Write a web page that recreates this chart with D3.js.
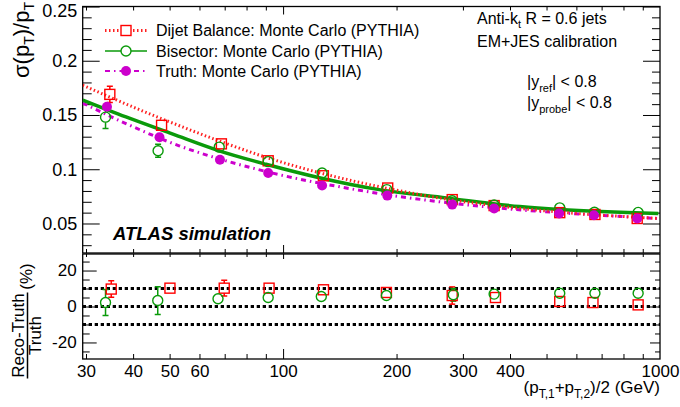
<!DOCTYPE html>
<html><head><meta charset="utf-8">
<script src="https://cdn.jsdelivr.net/npm/d3@7/dist/d3.min.js"></script>
<style>
html,body{margin:0;padding:0;background:#fff;}
svg{display:block;font-family:"Liberation Sans",Arial,Helvetica,sans-serif;}
</style></head>
<body><svg id="c" width="680" height="407"></svg>
<script>
// ---------- data ----------
const dijetX   = [34.7, 47.6, 68.6, 91.3, 127.9, 189.5, 281, 363, 542, 672, 870];
const dijetY   = [0.169, 0.1405, 0.1234, 0.1078, 0.094, 0.0827, 0.072, 0.0665, 0.0600, 0.0583, 0.0546];
const dijetErr = [0.0075, 0.003, 0.003, 0.002, 0.002, 0.0015, 0.0015, 0.001, 0.001, 0.001, 0.001];

const bisX   = [33.8, 46.6, 67.7, 91.3, 126.9, 188.5, 281, 363, 542, 670, 875];
const bisY   = [0.148, 0.117, 0.1204, 0.107, 0.0965, 0.0812, 0.071, 0.067, 0.0644, 0.0604, 0.0602];
const bisErr = [0.0105, 0.006, 0.003, 0.002, 0.002, 0.0015, 0.0015, 0.001, 0.001, 0.001, 0.001];

const truthX = [34.1, 47.0, 68.0, 91.3, 126.9, 189, 281, 363, 540, 668, 870];
const truthY = [0.1576, 0.1295, 0.1087, 0.0965, 0.085, 0.0757, 0.0674, 0.0638, 0.0592, 0.0576, 0.0546];

const dijetFitX = [29.4, 38.3, 50.8, 67.7, 90.1, 124.8, 180, 271, 416, 542, 990];
const dijetFitY = [0.1775, 0.1601, 0.1427, 0.1261, 0.1110, 0.0968, 0.0839, 0.0725, 0.0642, 0.0605, 0.0546];
const bisFitX   = [29.4, 38.3, 50.8, 67.7, 90.1, 124.8, 180, 271, 424, 542, 990];
const bisFitY   = [0.1638, 0.1482, 0.1326, 0.1170, 0.1046, 0.0922, 0.0812, 0.0736, 0.0656, 0.0628, 0.0592];
const truthFitX = [29.4, 38.5, 53.0, 72.0, 101.8, 138.3, 195.5, 271, 416, 612.6, 990];
const truthFitY = [0.1610, 0.1417, 0.1216, 0.1069, 0.0936, 0.0844, 0.0757, 0.0693, 0.0628, 0.0587, 0.0546];

const ratioDijetX   = [35.0, 50.1, 69.8, 91.8, 128, 188, 281, 366, 542, 664, 875];
const ratioDijetY   = [9.7, 10.2, 10.2, 10.2, 9.3, 7.8, 6.1, 5.0, 2.8, 2.2, 0.9];
const ratioDijetErr = [4.6, 1, 4.4, 1, 1.5, 1, 4.8, 1.5, 0.5, 0.5, 0.5];
const ratioBisX   = [33.8, 46.5, 67.2, 91.3, 126.3, 188, 283, 363, 542, 672, 875];
const ratioBisY   = [2.2, 3.3, 4.3, 5.0, 5.6, 6.1, 6.5, 6.9, 7.4, 7.4, 7.4];
const ratioBisErr = [7.2, 7.7, 3, 1, 1, 1, 3.5, 2, 1, 1, 1];
const ratioRefLines = [10, 0, -10];

const yTopMajor = [0.05, 0.1, 0.15, 0.2, 0.25];
const yTopLabels = ["0.05", "0.1", "0.15", "0.2", "0.25"];
const yBotMajor = [-20, 0, 20];
const xMajor = [100, 1000];
const xMinor = [30, 40, 50, 60, 70, 80, 90, 200, 300, 400, 500, 600, 700, 800, 900];
const xLabels = [30, 40, 50, 60, 100, 200, 300, 400, 1000];
const legendLabels = ["Dijet Balance: Monte Carlo (PYTHIA)", "Bisector: Monte Carlo (PYTHIA)", "Truth: Monte Carlo (PYTHIA)"];

(function(){
// ---------- setup ----------
const RED = "#ff0000", GREEN = "#0a9a0a", MAG = "#cc00cc";
const svg = d3.select("#c");
const L = 82.7, R = 660, T1 = 6.5, B1 = 253, T2 = 254, B2 = 359;
const x = d3.scaleLog().domain([29.4, 1000]).range([L, R]);
const yT = d3.scaleLinear().domain([0.0228, 0.25]).range([B1, T1]);
const yB = d3.scaleLinear().domain([-29.2, 29.2]).range([B2, T2]);

svg.append("defs").html(`<clipPath id="cp1"><rect x="${L}" y="${T1}" width="${R-L}" height="${B1-T1}"/></clipPath>
<clipPath id="cp2"><rect x="${L}" y="${T2}" width="${R-L}" height="${B2-T2}"/></clipPath>`);

function styleAxis(g){ g.select(".domain").remove(); g.selectAll("line").attr("stroke","#000").attr("stroke-width",1); g.selectAll("text").attr("fill","#000").style("font-family","'Liberation Sans',Arial,sans-serif"); }

function range(a,b,s){ const r=[]; for(let v=a; v<=b+1e-9; v+=s) r.push(+v.toFixed(4)); return r; }
const yTopMinor = range(0.03, 0.24, 0.01).filter(v => !yTopMajor.some(m=>Math.abs(m-v)<1e-6));
const yBotMinor = range(-25, 25, 5).filter(v => !yBotMajor.includes(v));

// ---------- top panel axes ----------
svg.append("g").attr("transform",`translate(${L},0)`).call(d3.axisLeft(yT).tickValues(yTopMinor).tickSize(-9).tickFormat("")).call(styleAxis);
svg.append("g").attr("transform",`translate(${L},0)`).call(d3.axisLeft(yT).tickValues(yTopMajor).tickSize(-17).tickPadding(5.5).tickFormat((d,i)=>yTopLabels[i]))
  .call(g=>{styleAxis(g); g.selectAll("text").style("font-size","18px"); g.selectAll("text").filter(d=>d===0.25).attr("dy","0.55em");});
svg.append("g").attr("transform",`translate(${R},0)`).call(d3.axisRight(yT).tickValues(yTopMinor).tickSize(-8).tickFormat("")).call(styleAxis);
svg.append("g").attr("transform",`translate(${R},0)`).call(d3.axisRight(yT).tickValues(yTopMajor).tickSize(-17).tickFormat("")).call(styleAxis);
svg.append("g").attr("transform",`translate(0,${T1})`).call(d3.axisTop(x).tickValues(xMinor).tickSize(-4).tickFormat("")).call(styleAxis);
svg.append("g").attr("transform",`translate(0,${T1})`).call(d3.axisTop(x).tickValues(xMajor.filter(v=>v<1000)).tickSize(-8).tickFormat("")).call(styleAxis);
svg.append("g").attr("transform",`translate(0,${B1})`).call(d3.axisBottom(x).tickValues(xMinor).tickSize(-4).tickFormat("")).call(styleAxis);
svg.append("g").attr("transform",`translate(0,${B1})`).call(d3.axisBottom(x).tickValues(xMajor.filter(v=>v<1000)).tickSize(-8).tickFormat("")).call(styleAxis);

// ---------- bottom panel axes ----------
svg.append("g").attr("transform",`translate(${L},0)`).call(d3.axisLeft(yB).tickValues(yBotMinor).tickSize(-7).tickFormat("")).call(styleAxis);
svg.append("g").attr("transform",`translate(${L},0)`).call(d3.axisLeft(yB).tickValues(yBotMajor).tickSize(-14).tickPadding(6).tickFormat(d=>d)).call(g=>{styleAxis(g); g.selectAll("text").style("font-size","17px");});
svg.append("g").attr("transform",`translate(${R},0)`).call(d3.axisRight(yB).tickValues(yBotMinor).tickSize(-5).tickFormat("")).call(styleAxis);
svg.append("g").attr("transform",`translate(${R},0)`).call(d3.axisRight(yB).tickValues(yBotMajor).tickSize(-10).tickFormat("")).call(styleAxis);
svg.append("g").attr("transform",`translate(0,${T2})`).call(d3.axisTop(x).tickValues(xMinor).tickSize(-3).tickFormat("")).call(styleAxis);
svg.append("g").attr("transform",`translate(0,${T2})`).call(d3.axisTop(x).tickValues(xMajor.filter(v=>v<1000)).tickSize(-5).tickFormat("")).call(styleAxis);
svg.append("g").attr("transform",`translate(0,${B2})`).call(d3.axisBottom(x).tickValues(xMinor).tickSize(-5).tickFormat("")).call(styleAxis);
svg.append("g").attr("transform",`translate(0,${B2})`).call(d3.axisBottom(x).tickValues(xMajor.filter(v=>v<1000)).tickSize(-10).tickFormat("")).call(styleAxis);
svg.append("g").attr("transform",`translate(0,${B2})`).call(d3.axisBottom(x).tickValues(xLabels).tickSize(0).tickPadding(5.6).tickFormat(d=>d)).call(g=>{styleAxis(g); g.selectAll("text").style("font-size","17px");});

// frames
svg.append("rect").attr("x",L).attr("y",T1).attr("width",R-L).attr("height",B1-T1).attr("fill","none").attr("stroke","#000").attr("stroke-width",1.3);
svg.append("rect").attr("x",L).attr("y",T2).attr("width",R-L).attr("height",B2-T2).attr("fill","none").attr("stroke","#000").attr("stroke-width",1.3);

// ---------- curves ----------
const topG = svg.append("g").attr("clip-path","url(#cp1)");
function curve(xs, ys, color, w, dash){
  const line = d3.line().x(d=>x(d[0])).y(d=>yT(d[1])).curve(d3.curveMonotoneX);
  topG.append("path").attr("d", line(xs.map((v,i)=>[v, ys[i]]))).attr("fill","none")
    .attr("stroke",color).attr("stroke-width",w).attr("stroke-dasharray",dash||null);
}
curve(truthFitX, truthFitY, MAG, 3, "5,4,1.5,4");
curve(bisFitX, bisFitY, GREEN, 3.5, null);
curve(dijetFitX, dijetFitY, "#ff2020", 3, "1.5,2.5");

// markers helpers
const MR = 5;
function errBars(g, xs, ys, es, ysc, color){
  xs.forEach((xv,i)=>{
    const cx = x(xv), cy = ysc(ys[i]);
    const up = ysc(ys[i]+es[i]), dn = ysc(ys[i]-es[i]);
    if (cy-up > MR+0.5){
      g.append("line").attr("x1",cx).attr("x2",cx).attr("y1",cy-MR).attr("y2",up).attr("stroke",color).attr("stroke-width",1.5);
      g.append("line").attr("x1",cx-3).attr("x2",cx+3).attr("y1",up).attr("y2",up).attr("stroke",color).attr("stroke-width",1.5);
    }
    if (dn-cy > MR+0.5){
      g.append("line").attr("x1",cx).attr("x2",cx).attr("y1",cy+MR).attr("y2",dn).attr("stroke",color).attr("stroke-width",1.5);
      g.append("line").attr("x1",cx-3).attr("x2",cx+3).attr("y1",dn).attr("y2",dn).attr("stroke",color).attr("stroke-width",1.5);
    }
  });
}
function squares(g, xs, ys, ysc){
  g.selectAll(null).data(xs).enter().append("rect")
   .attr("x",(d)=>x(d)-MR).attr("y",(d,i)=>ysc(ys[i])-MR).attr("width",2*MR).attr("height",2*MR)
   .attr("fill","none").attr("stroke",RED).attr("stroke-width",1.4);
}
function openCircles(g, xs, ys, ysc){
  g.selectAll(null).data(xs).enter().append("circle")
   .attr("cx",d=>x(d)).attr("cy",(d,i)=>ysc(ys[i])).attr("r",MR)
   .attr("fill","none").attr("stroke",GREEN).attr("stroke-width",1.4);
}
function filledCircles(g, xs, ys, ysc){
  g.selectAll(null).data(xs).enter().append("circle")
   .attr("cx",d=>x(d)).attr("cy",(d,i)=>ysc(ys[i])).attr("r",MR)
   .attr("fill",MAG).attr("stroke","none");
}

errBars(topG, dijetX, dijetY, dijetErr, yT, RED);
errBars(topG, bisX, bisY, bisErr, yT, GREEN);
squares(topG, dijetX, dijetY, yT);
openCircles(topG, bisX, bisY, yT);
filledCircles(topG, truthX, truthY, yT);

// ---------- bottom panel ----------
const botG = svg.append("g").attr("clip-path","url(#cp2)");
ratioRefLines.forEach(v=>{
  botG.append("line").attr("x1",L).attr("x2",R).attr("y1",yB(v)).attr("y2",yB(v))
   .attr("stroke","#000").attr("stroke-width",3).attr("stroke-dasharray","3.3,2.7");
});
errBars(botG, ratioDijetX, ratioDijetY, ratioDijetErr, yB, RED);
errBars(botG, ratioBisX, ratioBisY, ratioBisErr, yB, GREEN);
squares(botG, ratioDijetX, ratioDijetY, yB);
openCircles(botG, ratioBisX, ratioBisY, yB);

// ---------- legend ----------
const legY = [30.5, 51, 71];
const leg = svg.append("g");
const lx1 = 105, lx2 = 147, lmx = 126;
leg.append("line").attr("x1",lx1).attr("x2",lx2).attr("y1",legY[0]).attr("y2",legY[0]).attr("stroke","#ff2020").attr("stroke-width",3).attr("stroke-dasharray","1.5,2.5");
leg.append("rect").attr("x",lmx-MR).attr("y",legY[0]-MR).attr("width",2*MR).attr("height",2*MR).attr("fill","#fff").attr("stroke",RED).attr("stroke-width",1.4);
leg.append("line").attr("x1",lx1).attr("x2",lx2).attr("y1",legY[1]).attr("y2",legY[1]).attr("stroke",GREEN).attr("stroke-width",1.5);
leg.append("circle").attr("cx",lmx).attr("cy",legY[1]).attr("r",MR).attr("fill","#fff").attr("stroke",GREEN).attr("stroke-width",1.4);
leg.append("line").attr("x1",lx1).attr("x2",lx2).attr("y1",legY[2]).attr("y2",legY[2]).attr("stroke",MAG).attr("stroke-width",2).attr("stroke-dasharray","5,4,1.5,4");
leg.append("circle").attr("cx",lmx).attr("cy",legY[2]).attr("r",MR).attr("fill",MAG);
legendLabels.forEach((t,i)=>{
  leg.append("text").attr("x",156).attr("y",legY[i]+5.8).style("font-size","16px").text(t);
});

// ---------- annotations ----------
function subText(xp, yp, parts, size, extra){
  const t = svg.append("text").attr("x",xp).attr("y",yp).style("font-size",size+"px");
  if (extra) extra(t);
  parts.forEach(p=>{
    if (typeof p === "string") t.append("tspan").text(p);
    else t.append("tspan").attr("dy",p.dy).style("font-size",p.size+"px").text(p.t);
  });
  return t;
}
subText(477, 24, ["Anti-k", {t:"t",dy:4,size:11}, {t:" R = 0.6 jets",dy:-4,size:16}], 16);
subText(477, 46.7, ["EM+JES calibration"], 16);
subText(527, 87, ["|y", {t:"ref",dy:5,size:11}, {t:"| < 0.8",dy:-5,size:16}], 16);
subText(527, 108, ["|y", {t:"probe",dy:5,size:11}, {t:"| < 0.8",dy:-5,size:16}], 16);

svg.append("text").attr("x",113).attr("y",240).style("font-size","18.5px").style("font-weight","bold").style("font-style","italic").text("ATLAS simulation");

// x-axis title
subText(660, 393, ["(p", {t:"T,1",dy:5,size:12}, {t:"+p",dy:-5,size:17}, {t:"T,2",dy:5,size:12}, {t:")/2 (GeV)",dy:-5,size:17}], 17, t=>t.attr("text-anchor","end"));

// y-axis title (top)
subText(0, 0, ["σ(p", {t:"T",dy:5,size:14}, {t:")/p",dy:-5,size:22}, {t:"T",dy:5,size:14}], 22, t=>t.attr("text-anchor","end").attr("transform","translate(29,2) rotate(-90)"));

// y-axis title (bottom, fraction)
const fy = 335.5;
svg.append("text").attr("text-anchor","middle").attr("transform",`translate(24,${fy}) rotate(-90)`).style("font-size","17px").text("Reco-Truth");
svg.append("line").attr("x1",27.5).attr("x2",27.5).attr("y1",fy-43).attr("y2",fy+43).attr("stroke","#000").attr("stroke-width",1.5);
svg.append("text").attr("text-anchor","middle").attr("transform",`translate(41,${fy}) rotate(-90)`).style("font-size","17px").text("Truth");
svg.append("text").attr("text-anchor","middle").attr("transform",`translate(32,276.5) rotate(-90)`).style("font-size","17px").text("(%)");
})();
</script></body></html>
